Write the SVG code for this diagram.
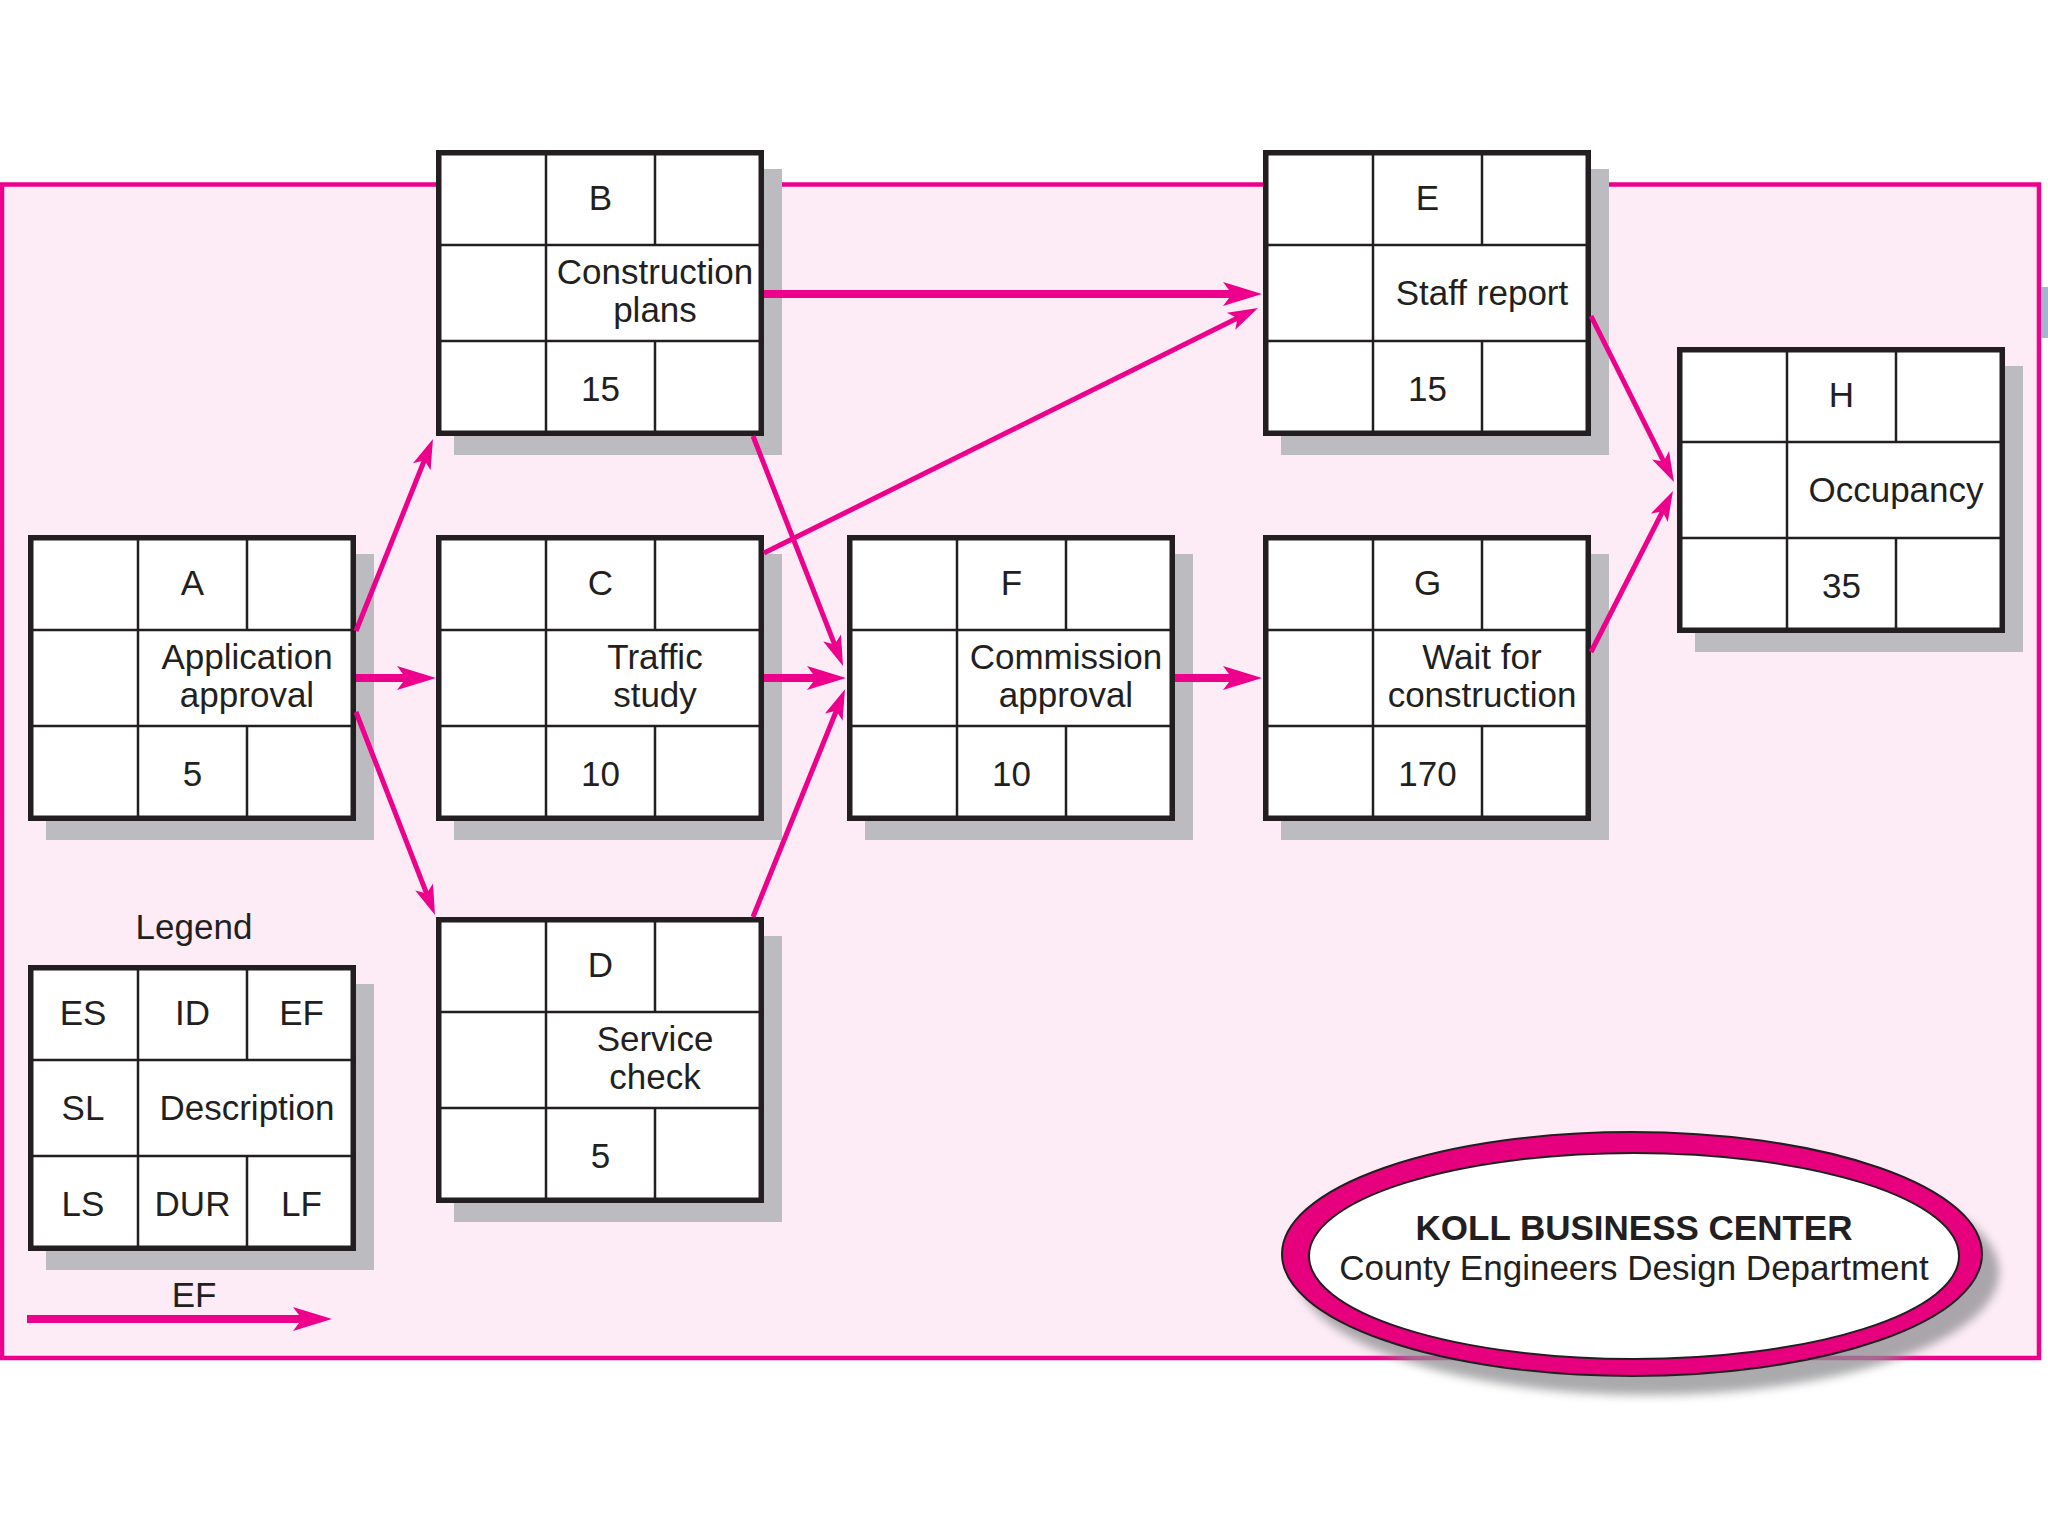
<svg xmlns="http://www.w3.org/2000/svg" xmlns:xlink="http://www.w3.org/1999/xlink" width="2048" height="1536" viewBox="0 0 2048 1536">
<defs>
<style>
.t{font-family:"Liberation Sans",Arial,sans-serif;font-size:35px;fill:#231f20;text-anchor:middle}
.tb{font-family:"Liberation Sans",Arial,sans-serif;font-size:35px;font-weight:bold;fill:#231f20;text-anchor:middle}
.shadow{fill:#bcbcc0}
.box{fill:#ffffff;stroke:#231f20;stroke-width:5.5}
.div{stroke:#231f20;stroke-width:2.5;fill:none}
.h{stroke:#ec008c;stroke-width:8;fill:none}
.d{stroke:#ec008c;stroke-width:5;fill:none}
</style>
<marker id="big" viewBox="-20 -13 41 26" markerWidth="41" markerHeight="26" refX="0" refY="0" orient="auto" markerUnits="userSpaceOnUse">
<path d="M20,0 L-19,-12 L-10,0 L-19,12 Z" fill="#ec008c"/>
</marker>
<marker id="small" viewBox="-16 -11 33 22" markerWidth="33" markerHeight="22" refX="0" refY="0" orient="auto" markerUnits="userSpaceOnUse">
<path d="M16,0 L-14,-9.5 L-7,0 L-14,9.5 Z" fill="#ec008c"/>
</marker>
<filter id="blur" x="-10%" y="-20%" width="120%" height="140%">
<feGaussianBlur stdDeviation="5"/>
</filter>
<g id="grid">
<rect class="shadow" x="18" y="19" width="328" height="286"/>
<rect class="box" x="2.75" y="2.75" width="322.5" height="280.5"/>
<path class="div" d="M0,95 H328 M0,191 H328 M110,0 V286 M219,0 V95 M219,191 V286"/>
</g>
</defs>
<rect x="0" y="0" width="2048" height="1536" fill="#ffffff"/>
<g id="frame">
<rect x="2" y="184.5" width="2037" height="1173.5" fill="#fdecf5" stroke="#ec008c" stroke-width="4.5"/>
<rect x="2041" y="287" width="7" height="51" fill="#a3b5cf"/>
</g>
<g id="node-A" transform="translate(28,535)">
<use xlink:href="#grid"/>
<text class="t" x="164.5" y="60">A</text>
<text class="t" x="219" y="134">Application</text>
<text class="t" x="219" y="172">approval</text>
<text class="t" x="164.5" y="251">5</text>
</g>
<g id="node-B" transform="translate(436,150)">
<use xlink:href="#grid"/>
<text class="t" x="164.5" y="60">B</text>
<text class="t" x="219" y="134">Construction</text>
<text class="t" x="219" y="172">plans</text>
<text class="t" x="164.5" y="251">15</text>
</g>
<g id="node-C" transform="translate(436,535)">
<use xlink:href="#grid"/>
<text class="t" x="164.5" y="60">C</text>
<text class="t" x="219" y="134">Traffic</text>
<text class="t" x="219" y="172">study</text>
<text class="t" x="164.5" y="251">10</text>
</g>
<g id="node-D" transform="translate(436,917)">
<use xlink:href="#grid"/>
<text class="t" x="164.5" y="60">D</text>
<text class="t" x="219" y="134">Service</text>
<text class="t" x="219" y="172">check</text>
<text class="t" x="164.5" y="251">5</text>
</g>
<g id="node-E" transform="translate(1263,150)">
<use xlink:href="#grid"/>
<text class="t" x="164.5" y="60">E</text>
<text class="t" x="219" y="155">Staff report</text>
<text class="t" x="164.5" y="251">15</text>
</g>
<g id="node-F" transform="translate(847,535)">
<use xlink:href="#grid"/>
<text class="t" x="164.5" y="60">F</text>
<text class="t" x="219" y="134">Commission</text>
<text class="t" x="219" y="172">approval</text>
<text class="t" x="164.5" y="251">10</text>
</g>
<g id="node-G" transform="translate(1263,535)">
<use xlink:href="#grid"/>
<text class="t" x="164.5" y="60">G</text>
<text class="t" x="219" y="134">Wait for</text>
<text class="t" x="219" y="172">construction</text>
<text class="t" x="164.5" y="251">170</text>
</g>
<g id="node-H" transform="translate(1677,347)">
<use xlink:href="#grid"/>
<text class="t" x="164.5" y="60">H</text>
<text class="t" x="219" y="155">Occupancy</text>
<text class="t" x="164.5" y="251">35</text>
</g>
<g id="connectors">
<line class="d" x1="356" y1="631" x2="427" y2="453.8" marker-end="url(#small)"/>
<line class="h" x1="356" y1="678" x2="416" y2="678" marker-end="url(#big)"/>
<line class="d" x1="356" y1="712" x2="429.2" y2="900.1" marker-end="url(#small)"/>
<line class="h" x1="764" y1="294" x2="1242" y2="294" marker-end="url(#big)"/>
<line class="d" x1="753" y1="436" x2="837.2" y2="651.1" marker-end="url(#small)"/>
<line class="d" x1="764" y1="553" x2="1243.7" y2="315.1" marker-end="url(#small)"/>
<line class="h" x1="764" y1="678" x2="826" y2="678" marker-end="url(#big)"/>
<line class="d" x1="753" y1="917" x2="839" y2="704.2" marker-end="url(#small)"/>
<line class="h" x1="1175" y1="678" x2="1242" y2="678" marker-end="url(#big)"/>
<line class="d" x1="1591" y1="316" x2="1666.8" y2="467.7" marker-end="url(#small)"/>
<line class="d" x1="1591" y1="652" x2="1665.7" y2="505.3" marker-end="url(#small)"/>
</g>
<g id="legend">
<text class="t" x="194" y="939">Legend</text>
<g transform="translate(28,965)">
<use xlink:href="#grid"/>
<text class="t" x="55" y="60">ES</text>
<text class="t" x="164.5" y="60">ID</text>
<text class="t" x="273.5" y="60">EF</text>
<text class="t" x="55" y="155">SL</text>
<text class="t" x="219" y="155">Description</text>
<text class="t" x="55" y="251">LS</text>
<text class="t" x="164.5" y="251">DUR</text>
<text class="t" x="273.5" y="251">LF</text>
</g>
<text class="t" x="194" y="1307">EF</text>
<line class="h" x1="27" y1="1319" x2="312" y2="1319" marker-end="url(#big)"/>
</g>
<g id="title-badge">
<ellipse cx="1648" cy="1272" rx="351" ry="123" fill="#8e8e92" opacity="0.75" filter="url(#blur)"/>
<ellipse cx="1632" cy="1254" rx="350" ry="122" fill="#e6007e" stroke="#231f20" stroke-width="2"/>
<ellipse cx="1634" cy="1256" rx="325" ry="103" fill="#ffffff" stroke="#231f20" stroke-width="2"/>
<text class="tb" x="1634" y="1240">KOLL BUSINESS CENTER</text>
<text class="t" x="1634" y="1280">County Engineers Design Department</text>
</g>
</svg>
